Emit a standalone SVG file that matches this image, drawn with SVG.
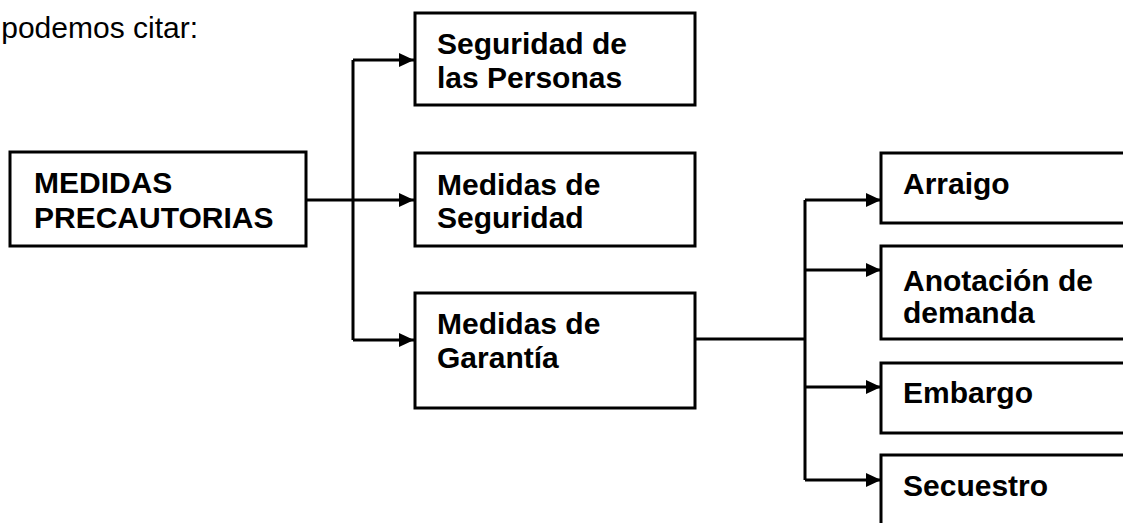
<svg xmlns="http://www.w3.org/2000/svg" width="1123" height="523" viewBox="0 0 1123 523">
<defs>
<style>
.box{fill:#fff;stroke:#000;stroke-width:3}
.lbl{font-family:"Liberation Sans",Arial,sans-serif;font-weight:bold;font-size:30px;fill:#000}
.intro{font-family:"Liberation Sans",Arial,sans-serif;font-size:30px;fill:#000}
.con{fill:none;stroke:#000;stroke-width:3}
</style>
<marker id="arr" markerUnits="userSpaceOnUse" markerWidth="15" markerHeight="14" viewBox="0 0 15 14" refX="15" refY="7" orient="auto">
<path d="M0,0 L15,7 L0,14 Z" fill="#000"/>
</marker>
</defs>
<rect width="1123" height="523" fill="#fff"/>
<text class="intro" x="198" y="38" text-anchor="end">podemos citar:</text>
<g id="connectors">
<path class="con" d="M306,200 H414" marker-end="url(#arr)"/>
<path class="con" d="M353,60 V340"/>
<path class="con" d="M353,60 H414" marker-end="url(#arr)"/>
<path class="con" d="M353,340 H414" marker-end="url(#arr)"/>
<path class="con" d="M695,339 H805"/>
<path class="con" d="M805,200 V480"/>
<path class="con" d="M805,200 H881" marker-end="url(#arr)"/>
<path class="con" d="M805,270 H881" marker-end="url(#arr)"/>
<path class="con" d="M805,387 H881" marker-end="url(#arr)"/>
<path class="con" d="M805,480 H881" marker-end="url(#arr)"/>
</g>
<g id="medidas-precautorias">
<rect class="box" x="10" y="152" width="296" height="94"/>
<text class="lbl" x="34" y="193">MEDIDAS</text>
<text class="lbl" x="34" y="228">PRECAUTORIAS</text>
</g>
<g id="seguridad-personas">
<rect class="box" x="415" y="13" width="280" height="92"/>
<text class="lbl" x="437" y="54">Seguridad de</text>
<text class="lbl" x="437" y="88">las Personas</text>
</g>
<g id="medidas-seguridad">
<rect class="box" x="415" y="153" width="280" height="93"/>
<text class="lbl" x="437" y="195">Medidas de</text>
<text class="lbl" x="437" y="228">Seguridad</text>
</g>
<g id="medidas-garantia">
<rect class="box" x="415" y="293" width="280" height="115"/>
<text class="lbl" x="437" y="334">Medidas de</text>
<text class="lbl" x="437" y="368">Garantía</text>
</g>
<g id="arraigo">
<rect class="box" x="881" y="153" width="260" height="70"/>
<text class="lbl" x="903" y="194">Arraigo</text>
</g>
<g id="anotacion">
<rect class="box" x="881" y="246" width="260" height="93"/>
<text class="lbl" x="903" y="291">Anotación de</text>
<text class="lbl" x="903" y="323">demanda</text>
</g>
<g id="embargo">
<rect class="box" x="881" y="363" width="260" height="70"/>
<text class="lbl" x="903" y="403">Embargo</text>
</g>
<g id="secuestro">
<rect class="box" x="881" y="455" width="260" height="90"/>
<text class="lbl" x="903" y="496">Secuestro</text>
</g>
</svg>
